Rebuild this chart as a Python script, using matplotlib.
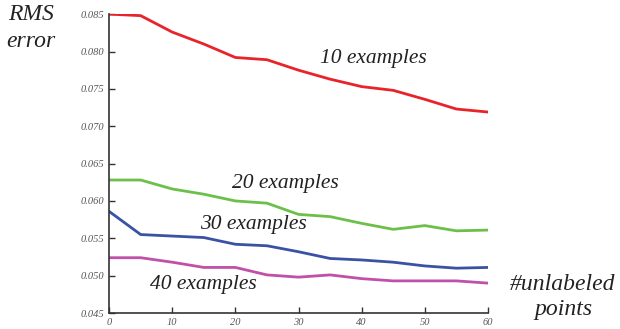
import matplotlib.pyplot as plt

# unlabeled points on the x axis
unlabeled = [0, 5, 10, 15, 20, 25, 30, 35, 40, 45, 50, 55, 60]

# RMS error per number of labeled examples
rms_10 = [0.0850, 0.0848, 0.0826, 0.0810, 0.0792, 0.0789, 0.0775, 0.0763,
          0.0753, 0.0748, 0.0736, 0.0723, 0.0719]
rms_20 = [0.0628, 0.0628, 0.0616, 0.0609, 0.0600, 0.0597, 0.0582, 0.0579,
          0.0570, 0.0562, 0.0567, 0.0560, 0.0561]
rms_30 = [0.0586, 0.0555, 0.0553, 0.0551, 0.0542, 0.0540, 0.0532, 0.0523,
          0.0521, 0.0518, 0.0513, 0.0510, 0.0511]
rms_40 = [0.0524, 0.0524, 0.0518, 0.0511, 0.0511, 0.0501, 0.0498, 0.0501,
          0.0496, 0.0493, 0.0493, 0.0493, 0.0490]

labels = ["10 examples", "20 examples", "30 examples", "40 examples"]
yticks = [0.045, 0.050, 0.055, 0.060, 0.065, 0.070, 0.075, 0.080, 0.085]
xticks = [0, 10, 20, 30, 40, 50, 60]

plt.rcParams["font.family"] = ["Liberation Serif", "DejaVu Serif"]

fig = plt.figure(figsize=(6.2, 3.29), dpi=100)
ax = fig.add_axes([0.176, 0.0486, 0.611, 0.9084])

ax.plot(unlabeled, rms_10, color="#E8232A", lw=2.0)
ax.plot(unlabeled, rms_20, color="#6CC04A", lw=2.0)
ax.plot(unlabeled, rms_30, color="#3A52A4", lw=2.0)
ax.plot(unlabeled, rms_40, color="#C050A8", lw=2.0)

ax.set_xlim(0, 60)
ax.set_ylim(0.045, 0.085)
ax.set_xticks(xticks)
ax.set_yticks(yticks)
ax.set_yticklabels(["%.3f" % t for t in yticks])
ax.spines["top"].set_visible(False)
ax.spines["right"].set_visible(False)
for s in ("left", "bottom"):
    ax.spines[s].set_color("#333333")
    ax.spines[s].set_linewidth(1.2)
ax.tick_params(direction="in", length=4, width=1, color="#333333",
               labelsize=7.5, labelcolor="#555555")
for t in ax.get_xticklabels() + ax.get_yticklabels():
    t.set_fontstyle("italic")

# series labels
pos = [(41.8, 0.0791), (27.9, 0.0623), (22.8, 0.0569), (14.9, 0.0488)]
for (x, y), lab in zip(pos, labels):
    ax.text(x, y, lab, ha="center", va="center", fontsize=15.5,
            fontstyle="italic", color="#222222")

fig.text(0.050, 0.988, "RMS\nerror", ha="center", va="top", fontsize=17,
         fontstyle="italic", color="#222222", linespacing=1.4)
fig.text(0.908, 0.097, "#unlabeled\npoints", ha="center", va="center",
         fontsize=17, fontstyle="italic", color="#222222", linespacing=1.3)

fig.savefig("out.png", dpi=100)
